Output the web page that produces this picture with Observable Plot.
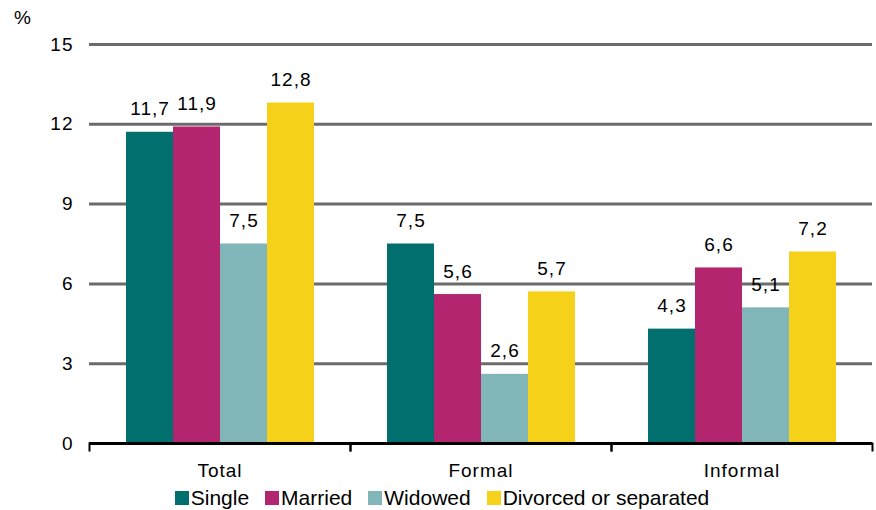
<!DOCTYPE html>
<html>
<head>
<meta charset="utf-8">
<script src="https://cdn.jsdelivr.net/npm/d3@7"></script>
<script src="https://cdn.jsdelivr.net/npm/@observablehq/plot@0.6"></script>
<style>
  body { margin: 0; background: #fff; font-family: "Liberation Sans", Arial, sans-serif; }
  #wrap { position: relative; width: 876px; height: 510px; }
  #ylab { position: absolute; left: 14px; top: 7px; font-size: 19px; color: #000; }
  #legend { display: flex; justify-content: center; align-items: center; height: 25px; font-size: 21px; color: #000; padding-left: 8px; }
  .item { display: flex; align-items: center; margin: 0 8px; }
  .sw { width: 14px; height: 14px; margin-right: 2px; }
</style>
</head>
<body>
<div id="wrap">
  <div id="chart"></div>
  <div id="legend"></div>
  <div id="ylab">%</div>
</div>
<script>
const categories = ["Total", "Formal", "Informal"];
const statuses = ["Single", "Married", "Widowed", "Divorced or separated"];
const single = [11.7, 7.5, 4.3];
const married = [11.9, 5.6, 6.6];
const widowed = [7.5, 2.6, 5.1];
const divorced = [12.8, 5.7, 7.2];
const yTicks = [0, 3, 6, 9, 12, 15];
const colors = ["#006f6e", "#b3256f", "#80b6b7", "#f6d11a"];

const seriesValues = [single, married, widowed, divorced];
const data = [];
categories.forEach((c, i) => {
  statuses.forEach((s, j) => data.push({cat: c, status: s, value: seriesValues[j][i]}));
});
const fmt = d => d.toFixed(1).replace(".", ",");

const chart = Plot.plot({
  width: 876,
  height: 485,
  marginLeft: 89,
  marginRight: 4,
  marginTop: 44,
  marginBottom: 42,
  style: {fontFamily: "'Liberation Sans', Arial, sans-serif", fontSize: "19px", letterSpacing: "1px", color: "#000", background: "#fff"},
  fx: {domain: categories, padding: 0, label: null},
  x: {domain: statuses, paddingInner: 0, paddingOuter: 0.75, axis: null},
  y: {domain: [0, 15], ticks: yTicks, label: null},
  color: {domain: statuses, range: colors},
  marks: [
    Plot.ruleY([3, 6, 9, 12, 15], {stroke: "#6b6b6b", strokeWidth: 3}),
    Plot.axisY(yTicks, {tickSize: 0, tickPadding: 16, label: null, fontSize: 19}),
    Plot.axisFx({anchor: "bottom", tickSize: 0, tickPadding: 20, label: null, fontSize: 19}),
    Plot.barY(data, {fx: "cat", x: "status", y: "value", fill: "status"}),
    Plot.text(data, {fx: "cat", x: "status", y: "value", text: d => fmt(d.value), dy: -23, fontSize: 19, fill: "#000"}),
    Plot.ruleY([0], {stroke: "#000", strokeWidth: 3}),
    Plot.frame({anchor: "left", stroke: "#000", strokeWidth: 2, insetTop: 399, insetBottom: -7}),
    Plot.frame({anchor: "right", stroke: "#000", strokeWidth: 2, insetTop: 399, insetBottom: -7})
  ]
});
document.getElementById("chart").appendChild(chart);

const legend = document.getElementById("legend");
statuses.forEach((s, i) => {
  const it = document.createElement("div");
  it.className = "item";
  const sw = document.createElement("span");
  sw.className = "sw";
  sw.style.background = colors[i];
  const tx = document.createElement("span");
  tx.textContent = s;
  it.appendChild(sw);
  it.appendChild(tx);
  legend.appendChild(it);
});
</script>
</body>
</html>
